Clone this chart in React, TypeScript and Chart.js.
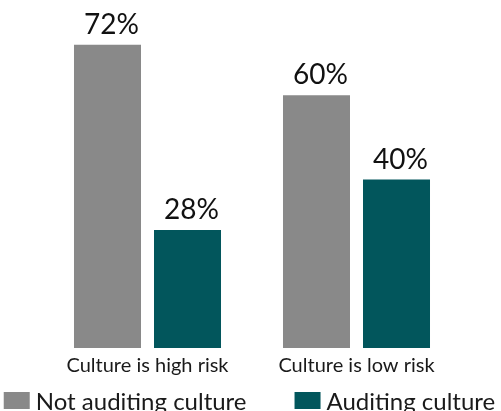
import React, { useEffect, useRef } from "react";
import { Chart, registerables } from "chart.js";

Chart.register(...registerables);

const categories = ["Culture is high risk", "Culture is low risk"];
const seriesNames = ["Not auditing culture", "Auditing culture"];
const notAuditing = [72, 60];
const auditing = [28, 40];
const seriesColors = ["#898989", "#02565C"];

const valueLabels = {
  id: "valueLabels",
  afterDatasetsDraw(chart: any) {
    const ctx = chart.ctx;
    ctx.save();
    ctx.font = "28px Lato";
    ctx.fillStyle = "#111111";
    ctx.textAlign = "center";
    ctx.textBaseline = "alphabetic";
    chart.data.datasets.forEach((ds: any, di: number) => {
      const meta = chart.getDatasetMeta(di);
      meta.data.forEach((bar: any, i: number) => {
        ctx.fillText(ds.data[i] + "%", bar.x + 4, bar.y - 11);
      });
    });
    ctx.restore();
  },
};

const bottomLegend = {
  id: "bottomLegend",
  afterDraw(chart: any) {
    const ctx = chart.ctx;
    ctx.save();
    ctx.font = "24px Lato";
    ctx.textBaseline = "alphabetic";
    ctx.textAlign = "left";
    const boxW = 26;
    const boxH = 17;
    const boxGap = 6;
    const itemGap = 48;
    const items = chart.data.datasets.map((ds: any) => ({
      label: ds.label,
      color: ds.backgroundColor,
      w: ctx.measureText(ds.label).width,
    }));
    let total = 0;
    items.forEach((it: any, i: number) => {
      total += boxW + boxGap + it.w + (i > 0 ? itemGap : 0);
    });
    let x = (chart.width - total) / 2 - 1;
    const baseline = chart.height - 1;
    items.forEach((it: any) => {
      ctx.fillStyle = it.color;
      ctx.fillRect(x, baseline - 18, boxW, boxH);
      ctx.fillStyle = "#1a1a1a";
      ctx.fillText(it.label, x + boxW + boxGap, baseline);
      x += boxW + boxGap + it.w + itemGap;
    });
    ctx.restore();
  },
};

export default function App() {
  const ref = useRef<HTMLCanvasElement | null>(null);
  useEffect(() => {
    if (!ref.current) return;
    const chart = new Chart(ref.current, {
      type: "bar",
      data: {
        labels: categories,
        datasets: [
          {
            label: seriesNames[0],
            data: notAuditing,
            backgroundColor: seriesColors[0],
            borderWidth: 0,
          },
          {
            label: seriesNames[1],
            data: auditing,
            backgroundColor: seriesColors[1],
            borderWidth: 0,
          },
        ],
      },
      options: {
        animation: false,
        responsive: false,
        maintainAspectRatio: false,
        devicePixelRatio: 1,
        layout: { padding: { left: 43, right: 40, top: 11, bottom: 27 } },
        datasets: {
          bar: { categoryPercentage: 0.7656, barPercentage: 0.8375 },
        },
        scales: {
          x: {
            grid: { display: false, drawTicks: false },
            border: { display: false },
            ticks: {
              color: "#1a1a1a",
              font: { family: "Lato", size: 20 },
              padding: 6,
            },
          },
          y: {
            display: false,
            min: 0,
            max: 80,
          },
        },
        plugins: {
          tooltip: { enabled: false },
          legend: { display: false },
        },
      },
      plugins: [valueLabels, bottomLegend],
    });
    return () => chart.destroy();
  }, []);
  return (
    <div
      style={{
        position: "fixed",
        left: 0,
        top: 0,
        width: 501,
        height: 411,
        overflow: "hidden",
        background: "#ffffff",
      }}
    >
      <canvas ref={ref} width={501} height={411} style={{ display: "block" }} />
    </div>
  );
}
